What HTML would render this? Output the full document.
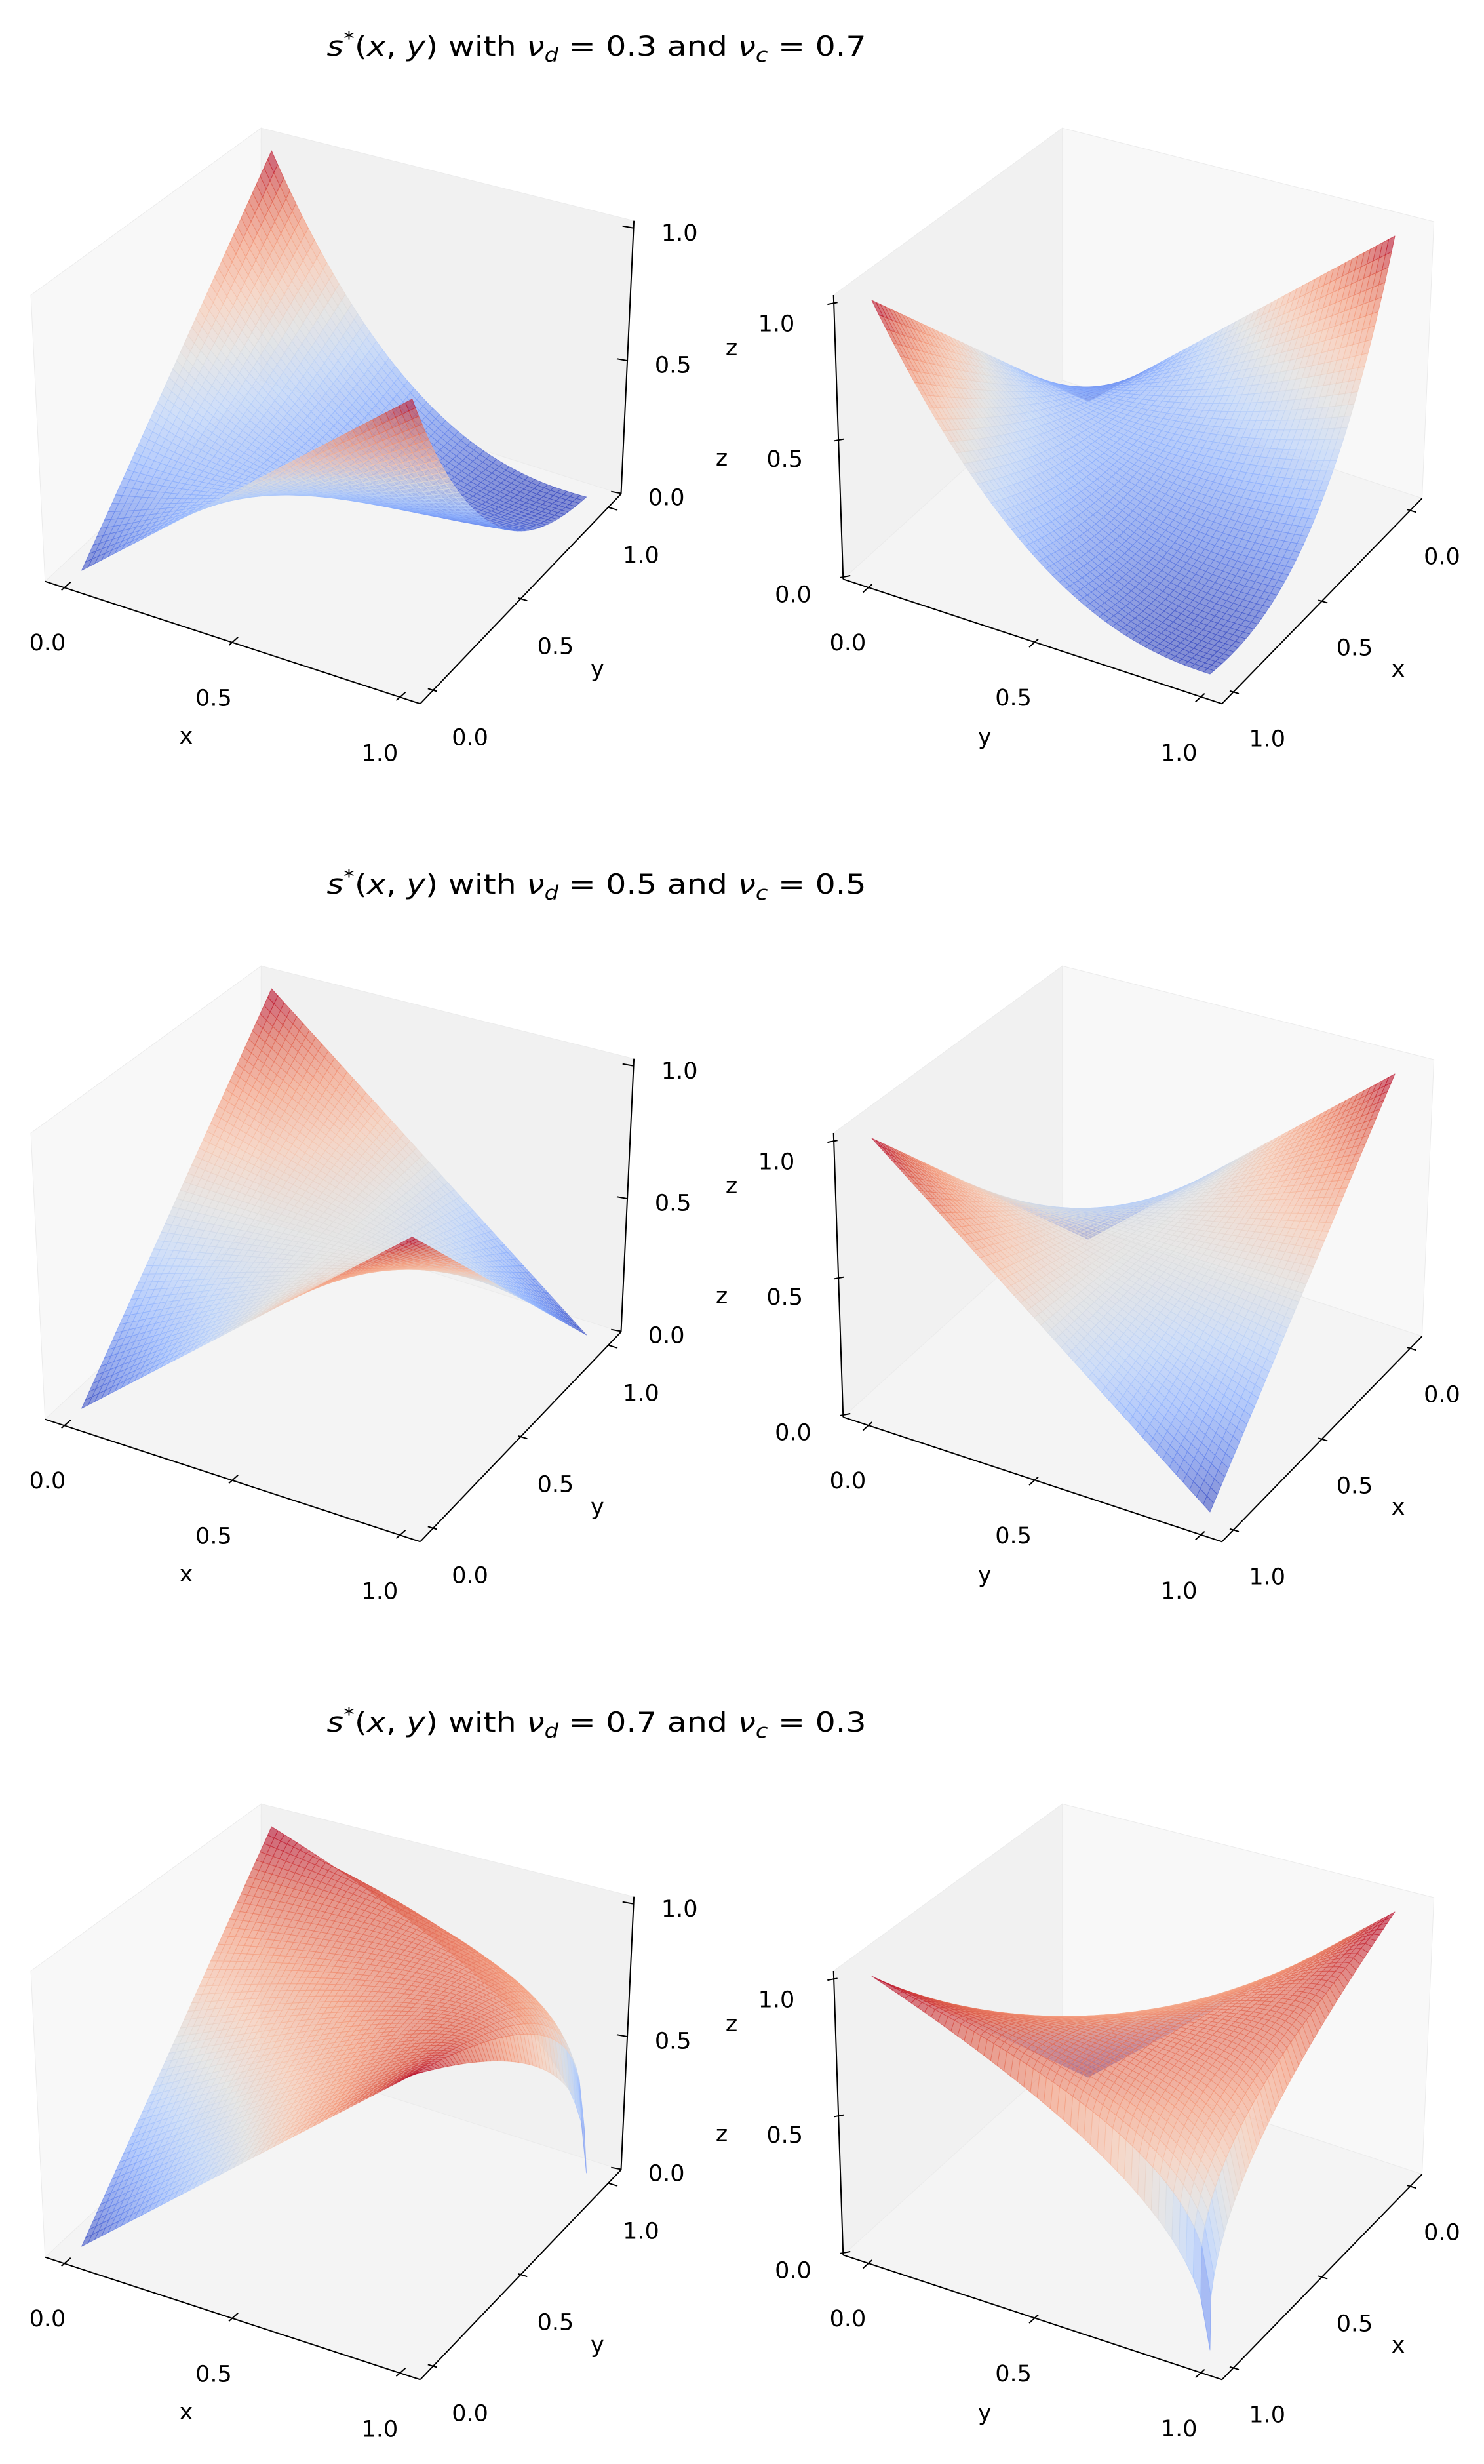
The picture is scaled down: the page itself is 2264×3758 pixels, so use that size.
<!DOCTYPE html>
<html><head><meta charset="utf-8">
<style>
html,body{margin:0;padding:0;background:#fff;}
svg{display:block;}
text{font-family:"DejaVu Sans","Liberation Sans",sans-serif;fill:#000;}
</style></head>
<body>
<svg id="fig" xmlns="http://www.w3.org/2000/svg" width="2264" height="3758" viewBox="0 0 2264 3758"></svg>
<script>
// ---- data ----
const nuD = [0.3, 0.5, 0.7];
const nuC = [0.7, 0.5, 0.3];
const tickValues = [0, 0.5, 1];
const tickLabels = ["0.0", "0.5", "1.0"];
const ROW_DY = 1278;
const N = 50;

const NS = "http://www.w3.org/2000/svg";
const svg = document.getElementById('fig');
function mk(tag, attrs, parent){ const e=document.createElementNS(NS,tag); for(const k in attrs) e.setAttribute(k,attrs[k]); (parent||svg).appendChild(e); return e; }

const cmapStops = [[59,76,192],[98,130,234],[141,176,254],[184,208,249],[221,221,221],[245,196,173],[244,154,123],[222,96,77],[180,4,38]];
function coolwarm(t){ t=Math.max(0,Math.min(1,t)); const f=t*8; const i=Math.min(7,Math.floor(f)); const u=f-i; const a=cmapStops[i],b=cmapStops[i+1];
  return 'rgb('+Math.round(a[0]+(b[0]-a[0])*u)+','+Math.round(a[1]+(b[1]-a[1])*u)+','+Math.round(a[2]+(b[2]-a[2])*u)+')'; }

function sfun(x,y,b){ return x*Math.pow(1-y,b) + y*Math.pow(1-x,b); }

const views = [
 { O:[124.6,870], ex:[492.25,133.35], ey:[277.75,-245.35], ez:[11.95,-394.65],
   panes:[ {pts:[[47.1,450],[398.4,195.3],[398,580],[68.8,886.7]], fill:'#f8f8f8', name:'x-pane'},
           {pts:[[398.4,195.3],[967.1,336.7],[947.5,753.3],[398,580]], fill:'#f1f1f1', name:'y-pane'},
           {pts:[[68.8,886.7],[398,580],[947.5,753.3],[641.1,1073.3]], fill:'#f4f4f4', name:'floor-pane'} ],
   axes:[ {name:'x', line:[[68.8,886.7],[641.1,1073.3]], t0:[97.8,896.7], t1:[608.5,1064.7], tick:[10,-9], l0:[72.4,980], l1:[579.5,1148.7], title:[284,1122]},
          {name:'y', line:[[641.1,1073.3],[947.5,753.3]], t0:[662.8,1053.3], t1:[938,776.7], tick:[-10,-3], l0:[717.1,1124.7], l1:[977.9,846.7], title:[911.3,1020]},
          {name:'z', line:[[947.5,753.3],[967.1,336.7]], t0:[943.3,751.7], t1:[960.7,346.7], tick:[-11,-2], l0:[1016.7,758.3], l1:[1036.7,355], title:[1101,698]} ],
   extraTitle:[1116,530] },
 { O:[1660,612], ex:[-306,257], ey:[492,159], ez:[-24,-411],
   panes:[ {pts:[[1271.7,450],[1620.7,195.3],[1621,580],[1286.3,883.3]], fill:'#f1f1f1', name:'y-pane'},
           {pts:[[1620.7,195.3],[2187.6,338],[2169.5,760],[1621,580]], fill:'#f8f8f8', name:'x-pane'},
           {pts:[[1286.3,883.3],[1621,580],[2169.5,760],[1864.2,1073.3]], fill:'#f4f4f4', name:'floor-pane'} ],
   axes:[ {name:'y', line:[[1286.3,883.3],[1864.2,1073.3]], t0:[1320.4,900], t1:[1827.8,1066.7], tick:[10,-9], l0:[1293.5,980], l1:[1798.7,1148], title:[1502.2,1123.3]},
          {name:'x', line:[[1864.2,1073.3],[2169.5,760]], t0:[2156.4,780], t1:[1886,1056.7], tick:[-10,-3], l0:[2200,848.7], l1:[1933.2,1126.7], title:[2133.1,1020]},
          {name:'z', line:[[1286.3,883.3],[1271.7,450]], t0:[1286.3,880], t1:[1266.7,463.3], tick:[11,-2], l0:[1210,906.7], l1:[1184.5,493.3], title:null} ],
   extraTitle:null }
];

function lerp(a,b,t){ return [a[0]+(b[0]-a[0])*t, a[1]+(b[1]-a[1])*t]; }

for(let r=0;r<nuD.length;r++){
  const dy = r*ROW_DY;
  const b = nuC[r]/nuD[r];
  const tt = mk('text',{x:910,y:85+dy,'text-anchor':'middle','font-size':42,textLength:823,lengthAdjust:'spacingAndGlyphs','xml:space':'preserve'});
  
  
  tt.innerHTML = '<tspan font-style="italic">s</tspan><tspan dy="-16" font-size="29">*</tspan><tspan dy="16">(</tspan><tspan font-style="italic">x</tspan>, <tspan font-style="italic">y</tspan>)  with  <tspan font-style="italic">ν</tspan><tspan dy="9" font-size="29" font-style="italic">d</tspan><tspan dy="-9"> = '+nuD[r].toFixed(1)+' and  </tspan><tspan font-style="italic">ν</tspan><tspan dy="9" font-size="29" font-style="italic">c</tspan><tspan dy="-9"> = '+nuC[r].toFixed(1)+'</tspan>';

  views.forEach((v,vi)=>{
    const g = mk('g',{});
    
    
    v.panes.forEach(pn=>{
      const pl = mk('polygon',{points:pn.pts.map(q=>q[0]+','+(q[1]+dy)).join(' '),fill:pn.fill,stroke:'#ebebeb','stroke-width':1},g);
      
      
    });
    v.axes.forEach(ax=>{
      const ln = mk('line',{x1:ax.line[0][0],y1:ax.line[0][1]+dy,x2:ax.line[1][0],y2:ax.line[1][1]+dy,stroke:'#000','stroke-width':2},g);
      
      
      tickValues.forEach((tv,ti)=>{
        const q = lerp(ax.t0,ax.t1,tv);
        const tk = mk('line',{x1:q[0]-ax.tick[0]*0.4,y1:q[1]+dy-ax.tick[1]*0.4,x2:q[0]+ax.tick[0],y2:q[1]+dy+ax.tick[1],stroke:'#000','stroke-width':2},g);
        
        
        const lq = lerp(ax.l0,ax.l1,tv);
        const lb = mk('text',{x:lq[0],y:lq[1]+dy+12,'text-anchor':'middle','font-size':35},g);
        lb.textContent = tickLabels[ti];
        
        
      });
      if(ax.title){
        const at = mk('text',{x:ax.title[0],y:ax.title[1]+dy+12,'text-anchor':'middle','font-size':35},g);
        at.textContent = ax.name;
        
        
      }
    });
    if(v.extraTitle){
      const et = mk('text',{x:v.extraTitle[0],y:v.extraTitle[1]+dy+12,'text-anchor':'middle','font-size':35},g);
      et.textContent = 'z';
      
      
    }
    const r1=[v.ex[0],v.ey[0],v.ez[0]], r2=[v.ex[1],v.ey[1],v.ez[1]];
    let vd=[r1[1]*r2[2]-r1[2]*r2[1], r1[2]*r2[0]-r1[0]*r2[2], r1[0]*r2[1]-r1[1]*r2[0]];
    if(vd[2]<0) vd=vd.map(c=>-c);
    const proj=(x,y,z)=>[v.O[0]+x*v.ex[0]+y*v.ey[0]+z*v.ez[0], v.O[1]+x*v.ex[1]+y*v.ey[1]+z*v.ez[1]+dy];
    const Z=[]; let zmax=0, zmin=Infinity;
    for(let i=0;i<=N;i++){ Z.push([]); for(let j=0;j<=N;j++){ const val=sfun(i/N,j/N,b); Z[i].push(val); if(val>zmax) zmax=val; if(val<zmin) zmin=val; } }
    const polys=[];
    for(let i=0;i<N;i++) for(let j=0;j<N;j++){
      const cs=[[i,j],[i+1,j],[i+1,j+1],[i,j+1]];
      let zm=0, cx=0, cy=0;
      cs.forEach(c=>{ zm+=Z[c[0]][c[1]]; cx+=c[0]/N; cy+=c[1]/N; });
      zm/=4; cx/=4; cy/=4;
      polys.push({cs,zm,depth:cx*vd[0]+cy*vd[1]+zm*vd[2]});
    }
    polys.sort((a,b)=>a.depth-b.depth);
    const sg = mk('g',{},g);
    
    
    polys.forEach(q=>{
      const pts=q.cs.map(c=>{ const s=proj(c[0]/N,c[1]/N,Z[c[0]][c[1]]); return s[0].toFixed(1)+','+s[1].toFixed(1); }).join(' ');
      const col=coolwarm((q.zm-zmin)/(zmax-zmin));
      const pg=mk('polygon',{points:pts,fill:col,'fill-opacity':0.62,stroke:col,'stroke-opacity':0.6,'stroke-width':1,'stroke-linejoin':'round'},sg);
      
      
    });
  });
}
</script>
</body></html>
